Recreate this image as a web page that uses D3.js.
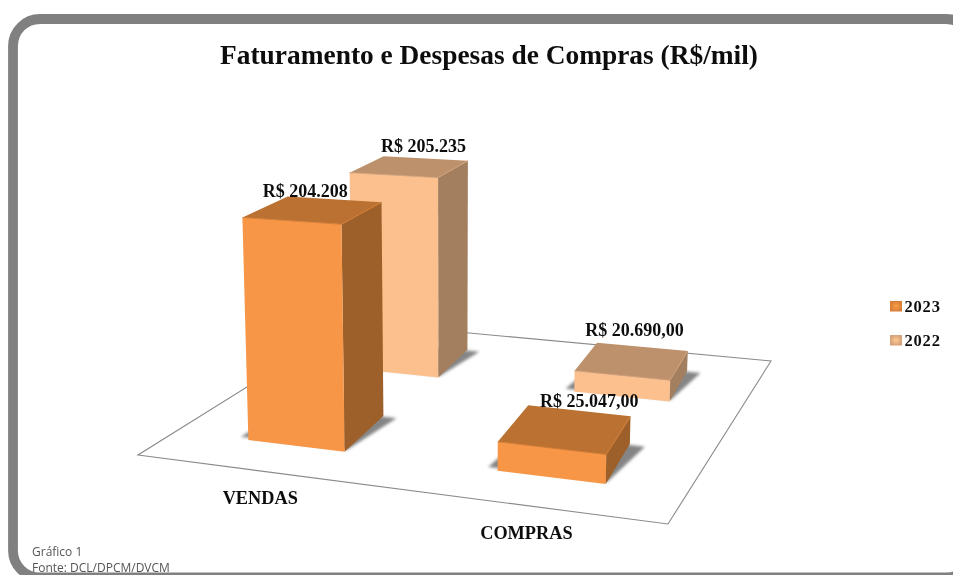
<!DOCTYPE html>
<html><head><meta charset="utf-8">
<script src="https://cdnjs.cloudflare.com/ajax/libs/d3/7.8.5/d3.min.js"></script>
<style>html,body{margin:0;padding:0;background:#fff;overflow:hidden}svg{display:block}</style>
</head><body><div id="chart"></div>
<script>
const chartTitle = "Faturamento e Despesas de Compras (R$/mil)";
const categories = ["VENDAS", "COMPRAS"];
const seriesNames = ["2023", "2022"];
const values2023 = [204208, 25047];
const values2022 = [205235, 20690];
const labels2023 = ["R$ 204.208", "R$ 25.047,00"];
const labels2022 = ["R$ 205.235", "R$ 20.690,00"];
const footerLines = ["Gráfico 1", "Fonte: DCL/DPCM/DVCM"];

// layout and style, kept apart from the data
const labelNudge2023 = [[-11, -13], [20.5, -22]];
const labelNudge2022 = [[11, -15], [-0.5, -25]];
const backTaper = 0.012;
const facesBySeries = {
  "2023": {front:"#F79646", top:"#BA7130", side:"#9E6029", edge:"#D67E36"},
  "2022": {front:"#FBC08D", top:"#BC916C", side:"#A37F5E", edge:"#D3A27A"}
};

const W = 953, H = 575;
const svg = d3.select("#chart").append("svg").attr("width", W).attr("height", H);
const defs = svg.append("defs");
const blur = (id, s) => defs.append("filter").attr("id", id)
  .attr("x", "-20%").attr("y", "-20%").attr("width", "140%").attr("height", "140%")
  .append("feGaussianBlur").attr("stdDeviation", s);
blur("soft", 0.45); blur("shadow", 1.8); blur("txt", 0.35);
seriesNames.forEach(s => {
  const g = defs.append("radialGradient").attr("id", "sw" + s);
  g.append("stop").attr("offset", "20%").attr("stop-color", facesBySeries[s].front);
  g.append("stop").attr("offset", "100%").attr("stop-color", facesBySeries[s].edge);
});

// floor plane: projective map from the unit square (u along categories, v along depth)
const P00 = [138, 455], P10 = [668, 524], P11 = [771, 361], P01 = [351, 322];
const dx1 = P10[0]-P11[0], dx2 = P01[0]-P11[0], sx = P00[0]-P10[0]+P11[0]-P01[0];
const dy1 = P10[1]-P11[1], dy2 = P01[1]-P11[1], sy = P00[1]-P10[1]+P11[1]-P01[1];
const den = dx1*dy2 - dx2*dy1;
const hg = (sx*dy2 - dx2*sy)/den, hh = (dx1*sy - sx*dy1)/den;
const ha = P10[0]-P00[0]+hg*P10[0], hb = P01[0]-P00[0]+hh*P01[0];
const hd = P10[1]-P00[1]+hg*P10[1], he = P01[1]-P00[1]+hh*P01[1];
const tiltX = 450, tilt = 1.33e-4;

const uScale = d3.scaleBand().domain(categories).range([0.006, 1.006]).paddingInner(0.6).paddingOuter(0.3);
const vScale = d3.scaleBand().domain(seriesNames).range([0.005, 1.005]).paddingInner(0.56).paddingOuter(0.28);
const yScale = d3.scaleLinear().domain([0, 205235]).range([0, 229]);

function project(u, v, val) {
  const w = hg*u + hh*v + 1;
  const x = (ha*u + hb*v + P00[0]) / w, y = (hd*u + he*v + P00[1]) / w;
  const f = yScale(val) / w;
  return [x + (x - tiltX)*tilt*f, y - f];
}
const poly = d3.line().curve(d3.curveLinearClosed);
const root = svg.append("g");

root.append("path").attr("d", poly([[0,0],[1,0],[1,1],[0,1]].map(c => project(c[0], c[1], 0))))
  .attr("fill", "#fff").attr("stroke", "#8a8a8a").attr("stroke-width", 1.1).attr("filter", "url(#soft)");

const bars = [];
seriesNames.slice().reverse().forEach(s => {
  const vals = s === "2023" ? values2023 : values2022;
  const labs = s === "2023" ? labels2023 : labels2022;
  const nudge = s === "2023" ? labelNudge2023 : labelNudge2022;
  categories.forEach((c, i) => bars.push({cat:c, series:s, value:vals[i], label:labs[i], nudge:nudge[i]}));
});

const barG = root.append("g").attr("filter", "url(#soft)");
bars.forEach(d => {
  const u0 = uScale(d.cat), u1 = u0 + uScale.bandwidth();
  const v0 = vScale(d.series), v1 = v0 + vScale.bandwidth();
  const b0 = u0 - backTaper, b1 = u1 - backTaper;
  const col = facesBySeries[d.series];
  const g = barG.append("g");
  g.append("path")
    .attr("d", poly([[u0-0.022,v0+0.012],[u1,v0+0.012],[b1+0.03,v1-0.005],[b0,v1]].map(c => project(c[0], c[1], 0))))
    .attr("fill", "#858585").attr("filter", "url(#shadow)");
  g.append("path").attr("d", poly([project(u1,v0,0), project(b1,v1,0), project(b1,v1,d.value), project(u1,v0,d.value)]))
    .attr("fill", col.side);
  g.append("path").attr("d", poly([project(u0,v0,0), project(u1,v0,0), project(u1,v0,d.value), project(u0,v0,d.value)]))
    .attr("fill", col.front);
  g.append("path").attr("d", poly([project(u0,v0,d.value), project(u1,v0,d.value), project(b1,v1,d.value), project(b0,v1,d.value)]))
    .attr("fill", col.top);
  g.append("path").attr("d", d3.line()([project(u0,v0,d.value), project(u1,v0,d.value), project(b1,v1,d.value)]))
    .attr("fill", "none").attr("stroke", col.edge).attr("stroke-width", 0.9);
});

const serif = "'Liberation Serif','Times New Roman',serif";
const textG = svg.append("g").attr("filter", "url(#txt)").attr("font-family", serif).attr("font-weight", "bold").attr("fill", "#111");

bars.forEach(d => {
  const u = uScale(d.cat) + uScale.bandwidth()/2, v = vScale(d.series) + vScale.bandwidth()/2;
  const p = project(u, v, d.value);
  textG.append("text").attr("x", p[0] + d.nudge[0]).attr("y", p[1] + d.nudge[1])
    .attr("text-anchor", "middle").attr("font-size", 18).text(d.label);
});

categories.forEach(c => {
  const p = project(uScale(c) + uScale.bandwidth()/2, 0, 0);
  textG.append("text").attr("x", p[0] - (c === categories[0] ? 1.5 : 0)).attr("y", p[1] + 33)
    .attr("text-anchor", "middle").attr("font-size", 18.3).text(c);
});

textG.append("text").attr("x", 489).attr("y", 64).attr("text-anchor", "middle")
  .attr("font-size", 27.4).text(chartTitle);

const legendY = d3.scalePoint().domain(seriesNames).range([306, 340]);
seriesNames.forEach(s => {
  textG.append("rect").attr("x", 890).attr("y", legendY(s)-5).attr("width", 12).attr("height", 10.5)
    .attr("fill", `url(#sw${s})`);
  textG.append("text").attr("x", 904.5).attr("y", legendY(s)+6).attr("font-size", 16.5)
    .attr("letter-spacing", 0.8).text(s);
});

const footG = svg.append("g").attr("filter", "url(#txt)").attr("font-family", "'Open Sans','Noto Sans',sans-serif").attr("font-size", 12).attr("fill", "#555");
footerLines.forEach((t, i) => footG.append("text").attr("x", 32).attr("y", 556 + i*16).text(t));

svg.append("rect").attr("x", 13).attr("y", 19).attr("width", 960).attr("height", 558.5).attr("rx", 27)
  .attr("fill", "none").attr("stroke", "#808080").attr("stroke-width", 9.8).attr("filter", "url(#soft)");
</script></body></html>
